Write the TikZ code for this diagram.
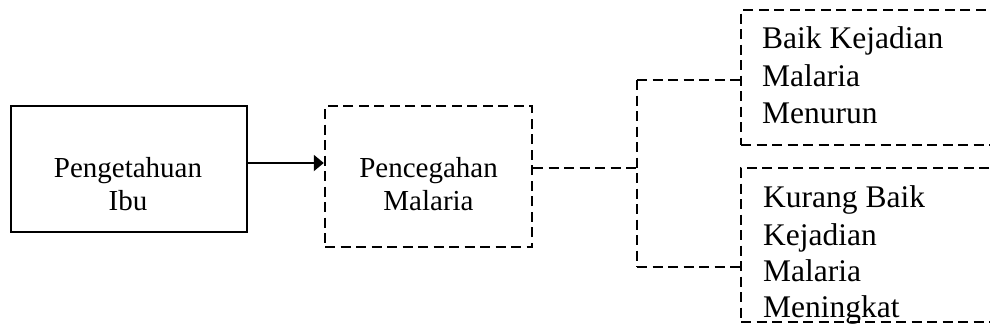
\documentclass[tikz,border=0pt]{standalone}
\usepackage{fontspec}
\setmainfont{Liberation Serif}
\usetikzlibrary{arrows.meta}
\begin{document}
\begin{tikzpicture}[x=1pt,y=-1pt,
 solidbox/.style={draw, line width=2pt, inner sep=0pt},
 dashbox/.style={draw, line width=2.4pt, dash pattern=on 10pt off 5.5pt, inner sep=0pt},
 conn/.style={line width=2.4pt, dash pattern=on 10pt off 5.5pt},
 smalltxt/.style={font=\fontsize{29}{33}\selectfont, inner sep=0pt, anchor=base},
 bigtxt/.style={font=\fontsize{31.5}{37}\selectfont, inner sep=0pt, anchor=base west}]
\useasboundingbox (0,0) rectangle (990,333);
\clip (0,0) rectangle (990,333);
% boxes
\node[solidbox, minimum width=236pt, minimum height=126pt] (b1) at (129,169) {};
\node[dashbox, minimum width=207pt, minimum height=141pt] (b2) at (428.5,176.5) {};
\node[dashbox, minimum width=264pt, minimum height=135pt] (b3) at (873,77.5) {};
\node[dashbox, minimum width=264pt, minimum height=154pt] (b4) at (873,245) {};
% texts
\node[smalltxt] (t1a) at (128,177) {Pengetahuan};
\node[smalltxt] (t1b) at (128,210) {Ibu};
\node[smalltxt] (t2a) at (428.5,177) {Pencegahan};
\node[smalltxt] (t2b) at (428.5,210) {Malaria};
\node[bigtxt] (t3a) at (762,48) {Baik Kejadian};
\node[bigtxt] (t3b) at (762,86) {Malaria};
\node[bigtxt] (t3c) at (762,123) {Menurun};
\node[bigtxt] (t4a) at (763,207) {Kurang Baik};
\node[bigtxt] (t4b) at (763,245) {Kejadian};
\node[bigtxt] (t4c) at (763,281) {Malaria};
\node[bigtxt] (t4d) at (763,317) {Meningkat};
% connectors
\coordinate (ay) at (0,163);
\draw[line width=2pt, -{Triangle[length=10pt,width=16pt]}] (b1.east |- ay) -- (b2.west |- ay);
\coordinate (j) at (637,168);
\coordinate (jt) at (637,80);
\coordinate (jb) at (637,267);
\draw[conn] (b2.east |- j) -- (j);
\draw[conn] (jt) -- (jb);
\draw[conn] (jt) -- (b3.west |- jt);
\draw[conn] (jb) -- (b4.west |- jb);
\end{tikzpicture}
\end{document}
